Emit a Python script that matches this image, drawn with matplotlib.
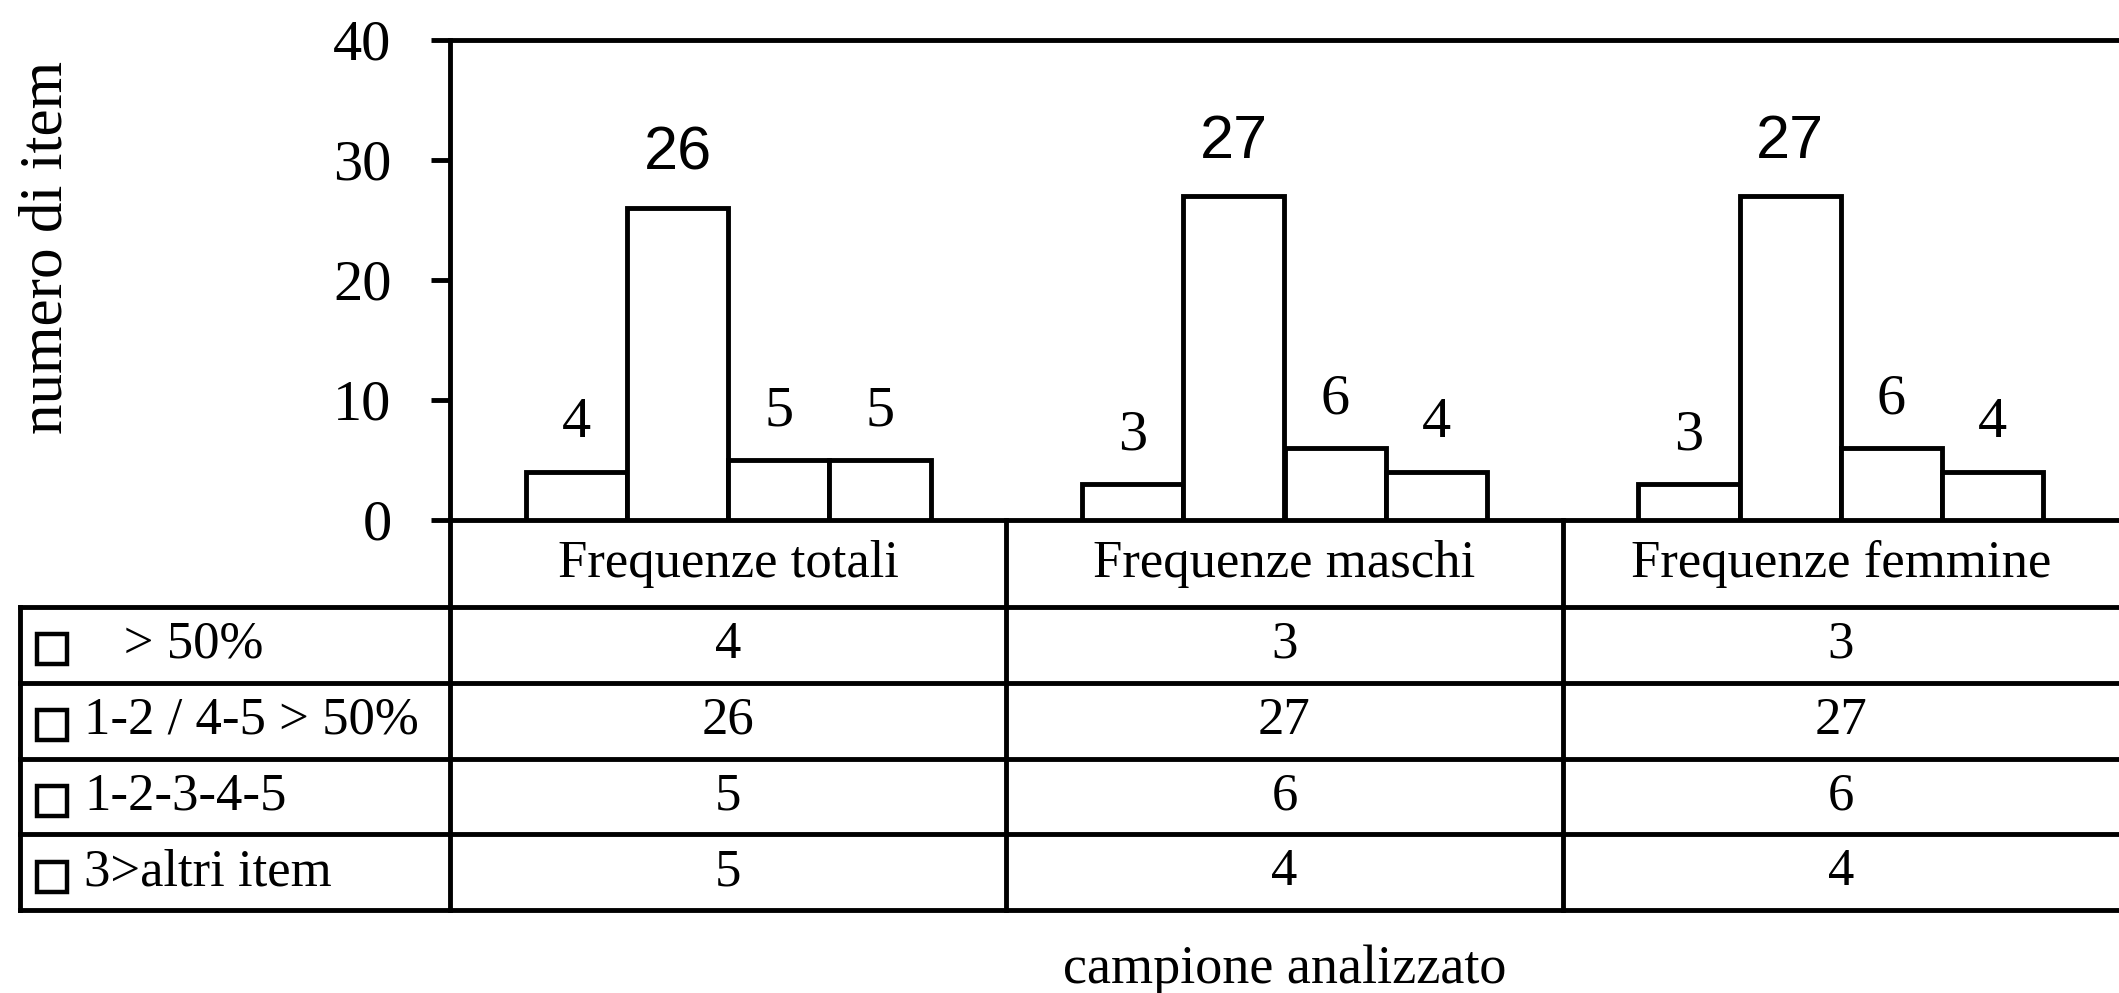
import numpy as np
import matplotlib
matplotlib.use('Agg')
import matplotlib.pyplot as plt

groups = ['Frequenze totali', 'Frequenze maschi', 'Frequenze femmine']
categories = ['   > 50%', '1-2 / 4-5 > 50%', '1-2-3-4-5', '3>altri item']
values = np.array([
    [4, 26, 5, 5],   # totali
    [3, 27, 6, 4],   # maschi
    [3, 27, 6, 4],   # femmine
])
y_ticks = [0, 10, 20, 30, 40]

W, H, DPI = 2119, 993, 100
SERIF = ['Liberation Serif', 'DejaVu Serif']
SANS = ['Liberation Sans', 'DejaVu Sans']
LW = 3.5

# pixel layout of the original
ax_l, ax_t, ax_b = 450, 40, 520
tab_l, tab_b = 20, 910
row_h = [1.15, 1, 1, 1, 1]

fig = plt.figure(figsize=(W / DPI, H / DPI), dpi=DPI)
ax = fig.add_axes([ax_l / W, 1 - ax_b / H, 1 - ax_l / W, (ax_b - ax_t) / H])

n_grp, n_cat = values.shape
bw = 0.182
xlim = (-0.5, n_grp - 0.5)
offsets = (np.arange(n_cat) - (n_cat - 1) / 2) * bw
for g, vals in enumerate(values):
    xs = g + offsets
    ax.bar(xs, vals, width=bw, facecolor='white', edgecolor='black',
           linewidth=LW, zorder=3)
    for x, v in zip(xs, vals):
        if v == vals.max():
            ax.text(x, v + 3.2, str(v), ha='center', va='baseline',
                    fontsize=44, family=SANS)
        else:
            ax.text(x, v + 2.9, str(v), ha='center', va='baseline',
                    fontsize=42, family=SERIF)

ax.set_xlim(xlim)
ax.set_ylim(0, 40)
ax.set_xticks([])
ax.set_yticks(y_ticks)
ax.tick_params(axis='y', direction='out', length=14, width=LW,
               labelsize=42, pad=28)
for lab in ax.get_yticklabels():
    lab.set_fontfamily(SERIF)
ax.spines['right'].set_visible(False)
for s in ['left', 'top', 'bottom']:
    ax.spines[s].set_linewidth(LW)

# table under the bars
tax = fig.add_axes([0, 1 - tab_b / H, 1, (tab_b - ax_b) / H])
tax.axis('off')
ppu = (W - ax_l) / (xlim[1] - xlim[0])
tax.set_xlim(xlim[0] - ax_l / ppu, xlim[1])
edges = np.concatenate([[0], np.cumsum(row_h)])
tax.set_ylim(edges[-1], 0)

def px2x(p):
    return xlim[0] + (p - ax_l) / ppu

leg_l = px2x(tab_l)
kw = dict(color='black', linewidth=LW, clip_on=False, solid_capstyle='projecting')
for y in edges[1:]:
    tax.plot([leg_l, xlim[1]], [y, y], **kw)
for x in np.arange(xlim[0], xlim[1]):
    tax.plot([x, x], [0, edges[-1]], **kw)
tax.plot([leg_l, leg_l], [edges[1], edges[-1]], **kw)

for g, name in enumerate(groups):
    tax.text(g, edges[1] / 2, name, ha='center', va='center',
             fontsize=38, family=SERIF)
    for r, v in enumerate(values[g]):
        yc = (edges[r + 1] + edges[r + 2]) / 2
        tax.text(g, yc, str(v), ha='center', va='center',
                 fontsize=38, family=SERIF)

for r, cat in enumerate(categories):
    yc = (edges[r + 1] + edges[r + 2]) / 2
    tax.plot(px2x(52), yc + 0.06, marker='s', markersize=21,
             markerfacecolor='white', markeredgecolor='black',
             markeredgewidth=3.2, clip_on=False)
    tax.text(px2x(84), yc, cat, ha='left', va='center',
             fontsize=38, family=SERIF)

fig.text(47 / W, 1 - 247 / H, 'numero di item', rotation=90,
         ha='center', va='center', fontsize=44, family=SERIF)
fig.text((ax_l + W) / 2 / W, 1 - 970 / H, 'campione analizzato',
         ha='center', va='center', fontsize=39, family=SERIF)

fig.savefig('out.png', dpi=DPI)
